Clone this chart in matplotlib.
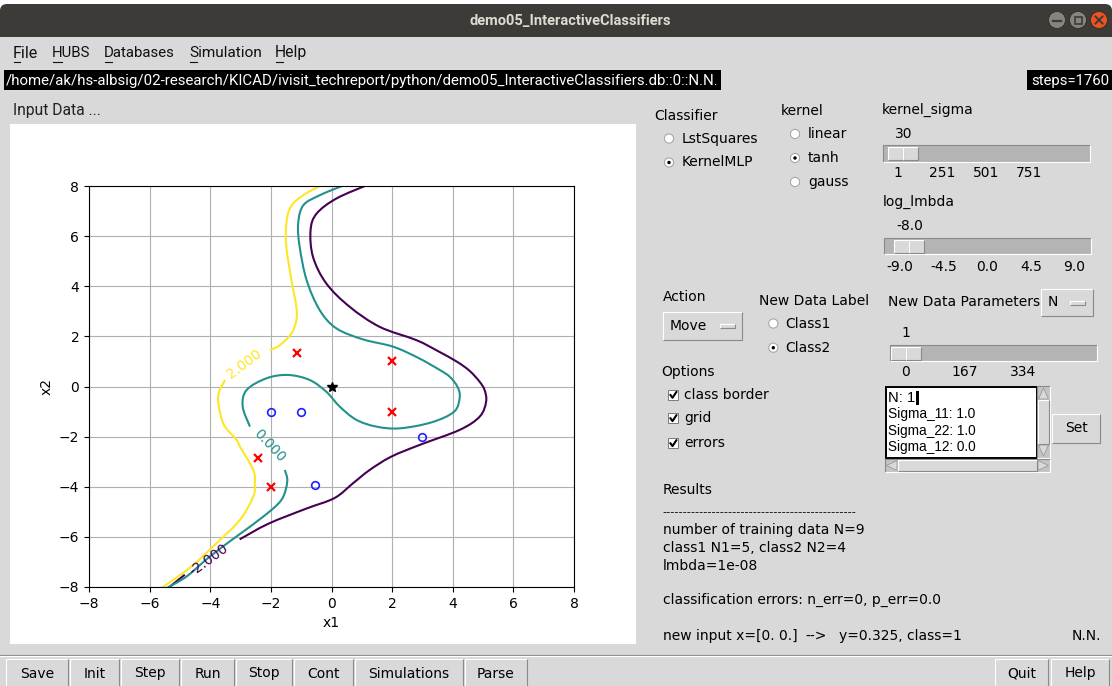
import numpy as np
import matplotlib
matplotlib.use("Agg")
import matplotlib.pyplot as plt
from matplotlib.patches import Rectangle, Circle, FancyBboxPatch, Polygon, PathPatch
from matplotlib.path import Path
from matplotlib import font_manager

nan = np.nan

# ------------------------------------------------------------------ data
class1_x = [-1.13, 2.0, 2.0, -2.42, -2.0]
class1_y = [1.32, 1.03, -1.0, -2.84, -4.0]
class2_x = [-2.0, -1.0, 3.0, -0.55]
class2_y = [-1.0, -1.0, -2.0, -3.95]
new_input_x = [0.0]
new_input_y = [0.0]

axis_ticks = [-8, -6, -4, -2, 0, 2, 4, 6, 8]

# traced contour lines of the decision function (nan = inline-label gap)
lvl_m2_x = [1.20, 0.16, -0.49, -0.69, -0.61, -0.17, 0.60, 1.59, 2.80, 3.50, 4.15, 4.56,
            4.88, 5.05, 5.10, 4.89, 4.23, 2.91, 1.97, 1.26, 0.71, 0.10, -0.85, -2.09,
            -3.03, nan, -4.84, -5.40]
lvl_m2_y = [8.05, 7.50, 6.90, 6.24, 5.17, 4.11, 3.18, 2.38, 1.85, 1.42, 0.98, 0.62,
            0.20, -0.14, -0.61, -1.20, -1.73, -2.33, -2.80, -3.33, -3.86, -4.45, -4.88,
            -5.48, -6.10, nan, -7.51, -8.05]

lvl_0_x = [0.45, -0.39, -0.93, -1.10, -1.05, -0.82, -0.39, 0.16, 1.04, 2.03, 2.85, 3.57,
           3.90, 4.15, 4.23, 4.05, 3.30, 2.25, 1.48, 0.82, 0.27, -0.17, -0.72, -1.43,
           -2.14, -2.80, -2.93, -2.69, nan, -1.54, -1.46, -1.65, -2.25, -3.13, -4.01,
           -4.78, -5.45]
lvl_0_y = [8.05, 7.63, 7.23, 6.50, 5.57, 4.24, 3.05, 2.32, 1.88, 1.59, 1.15, 0.66,
           0.39, 0.00, -0.41, -1.00, -1.43, -1.67, -1.60, -1.33, -0.80, -0.21, 0.26,
           0.46, 0.33, -0.14, -0.80, -1.60, nan, -3.33, -3.79, -4.52, -5.19, -5.98,
           -6.78, -7.58, -8.05]

lvl_p2_x = [-0.30, -0.94, -1.35, -1.49, -1.49, -1.32, -1.16, -1.16, -1.32, -1.70, -2.03,
            nan, -3.51, -3.74, -3.57, -3.13, -3.02, -2.58, -2.53, -2.58, -3.02, -3.79,
            -4.64, -5.62]
lvl_p2_y = [8.05, 7.63, 7.16, 6.50, 5.57, 4.24, 3.18, 2.65, 2.12, 1.65, 1.45,
            nan, 0.26, -0.41, -1.47, -2.13, -2.40, -3.33, -3.86, -4.39, -5.32, -6.25,
            -7.20, -8.05]

level_labels = ["-2.000", "0.000", "2.000"]
label_x = [-4.04, -2.03, -2.86]
label_y = [-6.93, -2.37, 0.89]

# ------------------------------------------------------------------ figure
W, H, DPI = 1112, 686, 100
GRAY = '#d9d9d9'
fig = plt.figure(figsize=(W / DPI, H / DPI), dpi=DPI)
fig.patch.set_facecolor(GRAY)
bg = fig.add_axes([0, 0, 1, 1], zorder=0)
bg.set_xlim(0, W)
bg.set_ylim(H, 0)
bg.axis('off')
renderer = fig.canvas.get_renderer()

names = {f.name for f in font_manager.fontManager.ttflist}
UB = 'Roboto' if 'Roboto' in names else 'DejaVu Sans'
TK = 'DejaVu Sans'
HV = 'Liberation Sans' if 'Liberation Sans' in names else 'DejaVu Sans'


def rect(x0, y0, x1, y1, fc, ec='none', lw=0, z=1):
    bg.add_patch(Rectangle((x0, y0), x1 - x0, y1 - y0, facecolor=fc, edgecolor=ec,
                           linewidth=lw, zorder=z))


def relief(x0, y0, x1, y1, kind='raised', face=GRAY, z=1):
    rect(x0, y0, x1, y1, face, z=z)
    light, dark = '#ffffff', '#8a8a8a'
    if kind == 'sunken':
        light, dark = dark, light
    bg.plot([x0, x0, x1], [y1, y0, y0], color=light, lw=0.8, zorder=z + 0.1,
            solid_capstyle='butt')
    bg.plot([x0, x1, x1], [y1, y1, y0], color=dark, lw=0.8, zorder=z + 0.1,
            solid_capstyle='butt')


def txt(x, y, s, size=10, family=TK, color='black', ha='left', va='center', **kw):
    return bg.text(x, y, s, fontsize=size, family=family, color=color, ha=ha, va=va,
                   zorder=5, **kw)


def fit(t, width):
    bb = t.get_window_extent(renderer)
    t.set_fontsize(t.get_fontsize() * width / bb.width)
    return t


def radio(x, y, sel):
    bg.add_patch(Circle((x, y), 4.6, facecolor='white', edgecolor='#a8a8a8', lw=0.8,
                        zorder=3))
    if sel:
        bg.add_patch(Circle((x, y), 1.7, facecolor='black', edgecolor='none', zorder=4))


def check(x, y):
    rect(x - 5, y - 5, x + 5, y + 5, 'white', ec='#7a7a7a', lw=0.7, z=3)
    bg.plot([x - 3, x - 0.8, x + 3.2], [y - 0.2, y + 2.8, y - 3.2], color='black',
            lw=1.5, zorder=4, solid_capstyle='round', solid_joinstyle='round')


def slider(x0, x1, y0, y1, k0, k1):
    relief(x0, y0, x1, y1, 'sunken', face='#b4b4b4', z=2)
    km = (k0 + k1) / 2
    relief(k0, y0 + 1.5, km, y1 - 1.5, 'raised', z=3)
    relief(km, y0 + 1.5, k1, y1 - 1.5, 'raised', z=3)


def optmenu(x0, y0, x1, y1, label, ind0):
    relief(x0, y0, x1, y1, 'raised', z=2)
    txt(x0 + 7, (y0 + y1) / 2, label)
    relief(ind0, (y0 + y1) / 2 - 2, ind0 + 15, (y0 + y1) / 2 + 2, 'raised', z=3)


# ---- title bar
rect(0, 0, W, 8, 'white', z=0.5)
bg.add_patch(FancyBboxPatch((0, 4), W, 45, boxstyle='round,pad=0,rounding_size=7',
                            facecolor='#3c3b37', edgecolor='none', zorder=0.6))
fit(txt(470, 21, 'demo05_InteractiveClassifiers', family=UB, color='#dfdbd2',
        weight='bold', size=11), 202)
for cx, fc in [(1057, '#85847f'), (1078, '#85847f'), (1099, '#e9541f')]:
    bg.add_patch(Circle((cx, 20), 8.5, facecolor=fc, edgecolor='#2e2d2a', lw=0.6, zorder=3))
bg.plot([1053, 1061], [20.5, 20.5], color='#3c3b37', lw=1.6, zorder=4)
rect(1074.5, 16.5, 1081.5, 23.5, 'none', ec='#3c3b37', lw=1.2, z=4)
bg.plot([1095.5, 1102.5], [16.5, 23.5], color='#3c3b37', lw=1.4, zorder=4)
bg.plot([1095.5, 1102.5], [23.5, 16.5], color='#3c3b37', lw=1.4, zorder=4)

# ---- menu bar
rect(0, 37, W, 69, GRAY, z=0.7)
for label, x0, x1 in [('File', 13, 38), ('HUBS', 52, 90), ('Databases', 104, 175),
                      ('Simulation', 189, 262), ('Help', 275, 307)]:
    t = fit(txt(x0, 53, label, family=UB, color='#101010'), x1 - x0)
    bb = bg.transData.inverted().transform(t.get_window_extent(renderer))
    fw = (bb[1][0] - bb[0][0]) / len(label) * 1.05
    bg.plot([x0 + 0.5, x0 + fw], [61.5, 61.5], color='#101010', lw=0.8, zorder=5)

# ---- path bar
rect(4, 70, 721, 90, 'black', z=1)
fit(txt(6, 80.5, '/home/ak/hs-albsig/02-research/KICAD/ivisit_techreport/python/'
        'demo05_InteractiveClassifiers.db::0::N.N.', family=UB, color='white'), 711)
rect(1027, 70, W, 90, 'black', z=1)
fit(txt(1031, 80.5, 'steps=1760', family=UB, color='white'), 78)

# ---- input data canvas
fit(txt(13, 111, 'Input Data ...', family=UB, color='#202020'), 88)
rect(10, 124, 636, 644, 'white', z=0.8)

# ---- right panel
txt(654, 116, 'Classifier')
radio(669, 138.5, False)
txt(682, 138.5, 'LstSquares')
radio(669, 162.5, True)
txt(682, 162.5, 'KernelMLP')

txt(781, 111, 'kernel')
for yy, lab, sel in [(134, 'linear', False), (158, 'tanh', True), (182, 'gauss', False)]:
    radio(795, yy, sel)
    txt(808, yy, lab)

txt(882, 110, 'kernel_sigma')
txt(904, 134, '30', ha='center')
slider(882.5, 1089.5, 145, 161.5, 888, 918)
for xx, lab in [(898, '1'), (942.5, '251'), (986, '501'), (1029.5, '751')]:
    txt(xx, 173, lab, ha='center')

txt(882.5, 202, 'log_lmbda')
txt(909.5, 226.5, '-8.0', ha='center')
slider(883.5, 1090.5, 238, 254, 894, 924)
for xx, lab in [(900, '-9.0'), (944, '-4.5'), (986.7, '0.0'), (1030.8, '4.5'),
                (1074.5, '9.0')]:
    txt(xx, 267, lab, ha='center')

txt(662.5, 297, 'Action')
optmenu(663, 312, 742, 340, 'Move', 720)
txt(759, 301, 'New Data Label')
radio(773.3, 323.5, False)
txt(785.7, 323.5, 'Class1')
radio(773.3, 347.7, True)
txt(785.7, 347.7, 'Class2')

txt(887.7, 302.3, 'New Data Parameters')
optmenu(1041, 289, 1093, 316, 'N', 1070)
txt(905.7, 333, '1', ha='center')
slider(889.5, 1096.5, 345, 361, 891, 921)
for xx, lab in [(905.7, '0'), (965, '167'), (1023, '334')]:
    txt(xx, 372.5, lab, ha='center')

txt(661.7, 372.3, 'Options')
for yy, lab in [(395, 'class border'), (418.3, 'grid'), (443.3, 'errors')]:
    check(673.3, yy)
    txt(684.3, yy, lab)

# text box with scrollbars
rect(885.5, 386.5, 1036.5, 458, 'white', ec='black', lw=1.4, z=2)
for yy, lab in [(397.5, 'N: 1'), (414.3, 'Sigma_11: 1.0'), (430.8, 'Sigma_22: 1.0'),
                (447.3, 'Sigma_12: 0.0')]:
    fit(txt(888.5, yy, lab, family=HV, size=9.8), {'N: 1': 27}.get(lab, 87.7))
rect(916.3, 390.5, 918.6, 404.5, 'black', z=6)
relief(1037, 386, 1050, 458, 'sunken', face='#c4c4c4', z=2)
relief(1038, 400, 1049, 444, 'raised', z=3)
bg.add_patch(Polygon([[1038.5, 399], [1048.5, 399], [1043.5, 388]], closed=True,
                     facecolor=GRAY, edgecolor='#9a9a9a', lw=0.6, zorder=3))
bg.add_patch(Polygon([[1038.5, 445], [1048.5, 445], [1043.5, 456]], closed=True,
                     facecolor=GRAY, edgecolor='#9a9a9a', lw=0.6, zorder=3))
relief(885, 459, 1050, 472, 'sunken', face='#c4c4c4', z=2)
relief(898, 460, 1037, 471, 'raised', z=3)
bg.add_patch(Polygon([[897, 460.5], [897, 470.5], [886.5, 465.5]], closed=True,
                     facecolor=GRAY, edgecolor='#9a9a9a', lw=0.6, zorder=3))
bg.add_patch(Polygon([[1038, 460.5], [1038, 470.5], [1048.5, 465.5]], closed=True,
                     facecolor=GRAY, edgecolor='#9a9a9a', lw=0.6, zorder=3))
relief(1052, 414, 1100, 443, 'raised', z=2)
txt(1076, 428.5, 'Set', ha='center')

# results
txt(662.7, 490, 'Results')
txt(662.7, 512, '-' * 47, size=8.2)
txt(662.7, 530, 'number of training data N=9')
txt(662.7, 547.7, 'class1 N1=5, class2 N2=4')
txt(662.7, 565.7, 'lmbda=1e-08')
txt(662.7, 600, 'classification errors: n_err=0, p_err=0.0')
txt(662.7, 635.7, 'new input x=[0. 0.]')
txt(805.7, 635.7, '-->')
txt(839, 635.7, 'y=0.325, class=1')
txt(1101, 635.7, 'N.N.', ha='right')

# ---- bottom button row
bg.plot([0, W], [654.5, 654.5], color='#8a8a8a', lw=0.8, zorder=1)
bg.plot([0, W], [655.5, 655.5], color='#ffffff', lw=0.8, zorder=1)
for lab, x0, x1 in [('Save', 6, 68), ('Init', 70, 119), ('Step', 121, 179),
                    ('Run', 181, 234), ('Stop', 236, 292), ('Cont', 294, 353),
                    ('Simulations', 355, 463), ('Parse', 465, 527),
                    ('Quit', 995, 1048), ('Help', 1051, 1109)]:
    relief(x0, 659, x1, 690, 'raised', z=2)
    txt((x0 + x1) / 2, 673.5, lab, ha='center')

# ------------------------------------------------------------------ chart
ax = fig.add_axes([89 / W, 1 - 587 / H, (574 - 89) / W, (587 - 186) / H], zorder=3)
ax.set_facecolor('white')
ax.set_xlim(-8, 8)
ax.set_ylim(-8, 8)
ax.set_xticks(axis_ticks)
ax.set_yticks(axis_ticks)
ax.grid(True, color='#b0b0b0', lw=0.8)
ax.set_axisbelow(True)
ax.set_xlabel('x1', fontsize=10)
ax.set_ylabel('x2', fontsize=10)
ax.tick_params(labelsize=10)


def smooth_path(xs, ys):
    """Cubic Bezier path through the traced points (drawn by matplotlib's Path)."""
    xs = np.asarray(xs, float)
    ys = np.asarray(ys, float)
    verts, codes = [], []
    brk = np.where(np.isnan(xs))[0]
    starts = np.r_[0, brk + 1]
    ends = np.r_[brk, len(xs)]
    for s, e in zip(starts, ends):
        p = np.column_stack([xs[s:e], ys[s:e]])
        n = len(p)
        verts.append(p[0])
        codes.append(Path.MOVETO)
        for i in range(n - 1):
            p0 = p[i - 1] if i > 0 else p[i]
            p3 = p[i + 2] if i + 2 < n else p[i + 1]
            c1 = p[i] + (p[i + 1] - p0) / 6.0
            c2 = p[i + 1] - (p3 - p[i]) / 6.0
            verts += [c1, c2, p[i + 1]]
            codes += [Path.CURVE4] * 3
    return Path(np.array(verts), codes)


cmap = plt.get_cmap('viridis')
line_colors = [cmap(0.0), cmap(0.5), cmap(1.0)]
lines = [(lvl_m2_x, lvl_m2_y), (lvl_0_x, lvl_0_y), (lvl_p2_x, lvl_p2_y)]
rotations = [36, -47, 37]
for (lx, ly), col, lab, tx, ty, rot in zip(lines, line_colors, level_labels, label_x,
                                           label_y, rotations):
    ax.add_patch(PathPatch(smooth_path(lx, ly), facecolor='none', edgecolor=col, lw=1.5,
                           capstyle='butt', joinstyle='round', zorder=2))
    ax.text(tx, ty, lab, color=col, fontsize=10, rotation=rot, ha='center', va='center',
            rotation_mode='anchor')

ax.plot(class1_x, class1_y, linestyle='none', marker='x', color='red', ms=5.5, mew=1.6,
        zorder=3)
ax.plot(class2_x, class2_y, linestyle='none', marker='o', mfc='none', mec='#2020ff',
        ms=5.5, mew=1.2, zorder=3)
ax.plot(new_input_x, new_input_y, linestyle='none', marker='*', color='black', ms=7,
        zorder=3)

fig.savefig('out.png', dpi=DPI, facecolor=fig.get_facecolor())
